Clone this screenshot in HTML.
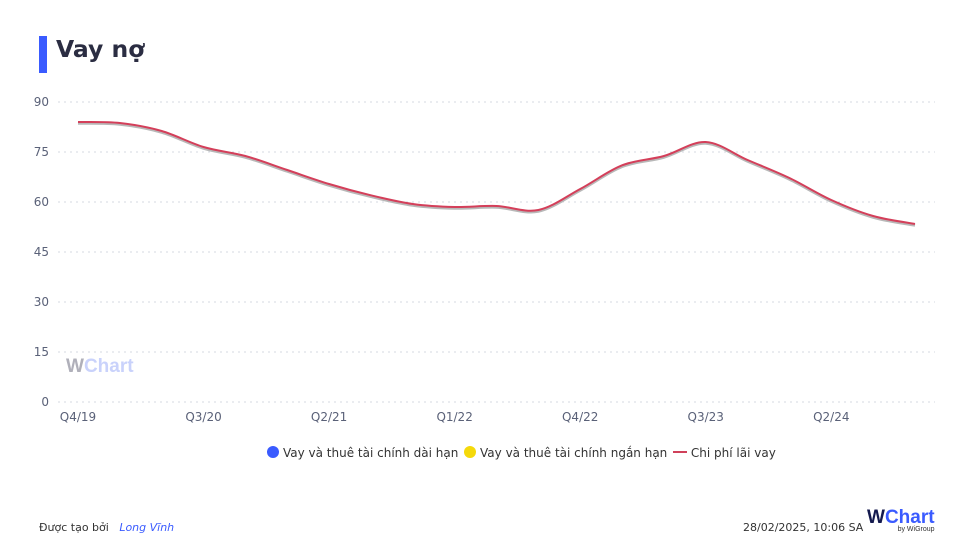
<!DOCTYPE html>
<html><head><meta charset="utf-8"><style>
body{margin:0;background:#fff;font-family:"DejaVu Sans","Liberation Sans",sans-serif;}
#root{position:relative;width:975px;height:558px;overflow:hidden;}
</style></head><body>
<div id="root">
<div style="position:absolute;left:39px;top:36px;width:8px;height:37px;background:#3a5bff"></div>
<div style="position:absolute;left:56px;top:35px;font-size:23.5px;font-weight:bold;color:#2b2d42">Vay nợ</div>
<svg id="chart" width="975" height="558" style="position:absolute;left:0;top:0"></svg>
<div style="position:absolute;top:446px;left:0;width:975px;text-align:center;font-size:12px;color:#333">
<span style="margin-left:68px"><span style="display:inline-block;width:12px;height:12px;border-radius:6px;background:#3a5bff;vertical-align:-1px"></span> Vay và thuê tài chính dài hạn</span>
<span style="margin-left:2px"><span style="display:inline-block;width:12px;height:12px;border-radius:6px;background:#f5d90a;vertical-align:-1px"></span> Vay và thuê tài chính ngắn hạn</span>
<span style="margin-left:2px"><span style="display:inline-block;width:14px;height:2px;background:#d0415a;vertical-align:4px"></span> Chi phí lãi vay</span>
</div>
<div style="position:absolute;left:39px;top:521px;font-size:11px;color:#333">Được tạo bởi &nbsp;&nbsp;<i style="color:#3a5bff">Long Vĩnh</i></div>
<div style="position:absolute;left:743px;top:521px;font-size:11px;color:#333">28/02/2025, 10:06 SA</div>
<div style="position:absolute;left:867px;top:507px;font-size:19px;font-weight:bold;color:#3a5bff;font-family:'Liberation Sans',sans-serif"><span style="color:#141a4e">W</span>Chart<div style="font-size:7px;color:#333;font-weight:normal;text-align:right;margin-top:-3px">by WiGroup</div></div>
<div style="position:absolute;left:66px;top:356px;font-size:19px;font-weight:bold;color:#c9d2fb;font-family:'Liberation Sans',sans-serif"><span style="color:#b0b0ba">W</span>Chart</div>
</div>
<script>
const categories=["Q4/19","Q1/20","Q2/20","Q3/20","Q4/20","Q1/21","Q2/21","Q3/21","Q4/21","Q1/22","Q2/22","Q3/22","Q4/22","Q1/23","Q2/23","Q3/23","Q4/23","Q1/24","Q2/24","Q3/24","Q4/24"];
const interestValues=[84,83.7,81.3,76.5,73.8,69.6,65.4,62,59.4,58.5,58.8,57.6,63.9,71,73.8,78,72.6,67.2,60.6,55.8,53.4];
const yTicks=[0,15,30,45,60,75,90];
const svg=document.getElementById('chart');
const NS='http://www.w3.org/2000/svg';
const x0=78,x1=915,yB=402,yT=102,yMax=90;
const xs=i=>x0+(x1-x0)*i/(categories.length-1);
const ys=v=>yB-(yB-yT)*v/yMax;
function mk(t,a){const e=document.createElementNS(NS,t);for(const k in a)e.setAttribute(k,a[k]);svg.appendChild(e);return e;}
yTicks.forEach(t=>{
 const l=mk('line',{x1:58,x2:935,y1:ys(t),y2:ys(t),stroke:'#d5d8e0','stroke-dasharray':'2,4'});
 
 
 const tx=mk('text',{x:49,y:ys(t)+4,'text-anchor':'end','font-size':12,fill:'#5a6178','font-family':'DejaVu Sans, sans-serif'});
 tx.textContent=t;
 
 
});
categories.forEach((c,i)=>{
 if(i%3!==0)return;
 const tx=mk('text',{x:xs(i),y:421,'text-anchor':'middle','font-size':12,fill:'#5a6178','font-family':'DejaVu Sans, sans-serif'});
 tx.textContent=c;
 
 
});
function pathFor(vals,dy){
 const p=vals.map((v,i)=>[xs(i),ys(v)+dy]);
 let d='M'+p[0][0]+','+p[0][1];
 for(let i=0;i<p.length-1;i++){
  const a=p[i-1]||p[i],b=p[i],c=p[i+1],e=p[i+2]||c;
  const c1=[b[0]+(c[0]-a[0])/6,b[1]+(c[1]-a[1])/6],c2=[c[0]-(e[0]-b[0])/6,c[1]-(e[1]-b[1])/6];
  d+=' C'+c1+' '+c2+' '+c;
 }
 return d;
}
const sh=mk('path',{d:pathFor(interestValues,1.5),fill:'none',stroke:'#b8b8b8','stroke-width':2.5});


const ln=mk('path',{d:pathFor(interestValues,0),fill:'none',stroke:'#d43f5a','stroke-width':2});


</script>
</body></html>
